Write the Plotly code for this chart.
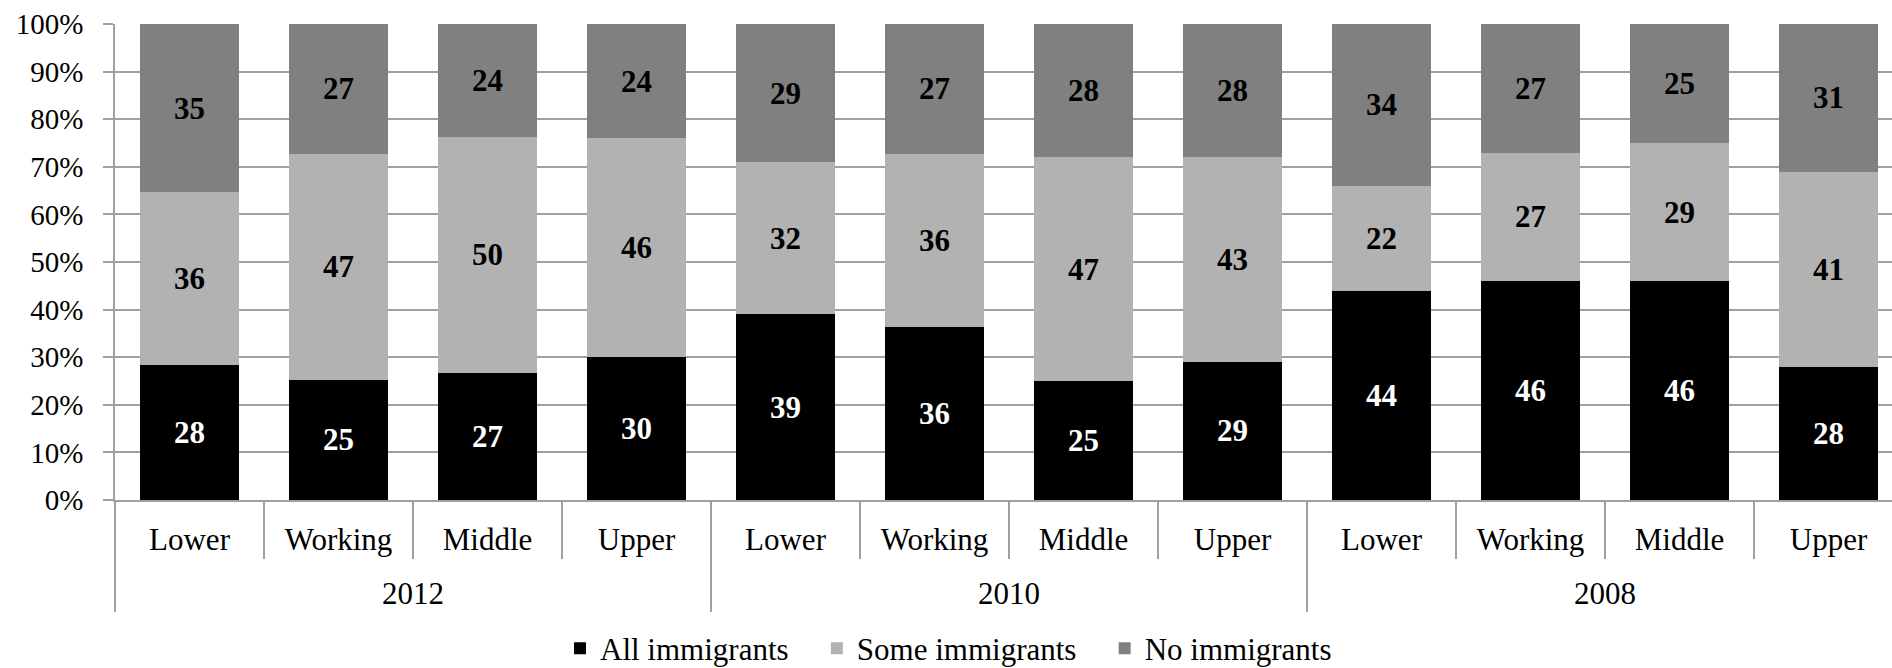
import plotly.graph_objects as go

years = ["2012", "2010", "2008"]
classes = ["Lower", "Working", "Middle", "Upper"]

all_imm = [28, 25, 27, 30, 39, 36, 25, 29, 44, 46, 46, 28]
some_imm = [36, 47, 50, 46, 32, 36, 47, 43, 22, 27, 29, 41]
no_imm = [35, 27, 24, 24, 29, 27, 28, 28, 34, 27, 25, 31]

y_ticks = [0, 10, 20, 30, 40, 50, 60, 70, 80, 90, 100]
y_ticktext = [f"{v}%" for v in y_ticks]

series_names = ["All immigrants", "Some immigrants", "No immigrants"]
series = [
    (series_names[0], all_imm, "#000000", "#ffffff"),
    (series_names[1], some_imm, "#b2b2b2", "#000000"),
    (series_names[2], no_imm, "#808080", "#000000"),
]

SPAN = "<span style='font-size:31px'>{}</span>"
x_outer = ["<br>" + SPAN.format(y) for y in years for _ in classes]
x_inner = [SPAN.format(c) for _ in years for c in classes]

FONT = "'Liberation Serif', 'Times New Roman', 'DejaVu Serif', serif"
PAD = "\u00a0" * 3

fig = go.Figure()
for i, (name, vals, color, tcolor) in enumerate(series):
    fig.add_trace(go.Bar(
        x=[x_outer, x_inner], y=vals,
        name=name + (PAD if i < len(series) - 1 else ""),
        marker=dict(color=color, line=dict(width=0)),
        text=[str(v) for v in vals], textposition="inside",
        insidetextanchor="middle",
        textfont=dict(family=FONT, size=31, color=tcolor, weight="bold"),
        width=0.665,
    ))

n = len(x_inner)
fig.update_layout(
    barmode="stack", barnorm="percent",
    width=1892, height=668,
    margin=dict(l=115, r=0, t=24, b=168, autoexpand=False),
    plot_bgcolor="white", paper_bgcolor="white",
    font=dict(family=FONT, size=31, color="black"),
    showlegend=True,
    legend=dict(orientation="h", x=(560 - 115) / 1777, xanchor="left", y=-0.312, yanchor="middle",
                font=dict(family=FONT, size=31), traceorder="normal", itemwidth=30),
)
fig.update_yaxes(
    range=[0, 100], tickmode="array", tickvals=y_ticks, ticktext=y_ticktext,
    showgrid=True, gridcolor="#a0a0a0", gridwidth=1.5,
    showline=True, linecolor="#a0a0a0", linewidth=1.5,
    ticks="outside", ticklen=10, tickcolor="#a0a0a0", tickwidth=1.5,
    tickfont=dict(family=FONT, size=29), zeroline=False,
    ticklabelstandoff=14, automargin=False,
)
fig.update_xaxes(
    type="multicategory", range=[-0.5, n - 0.5 - 11 / 149],
    showgrid=False, showline=True, linecolor="#a0a0a0", linewidth=1.5,
    ticks="outside", ticklen=57, tickcolor="#a0a0a0", tickwidth=1.5,
    showdividers=True, dividercolor="#a0a0a0", dividerwidth=1.5,
    tickfont=dict(family=FONT, size=26), ticklabelstandoff=17, automargin=False,
)
fig.write_html("out.html")
